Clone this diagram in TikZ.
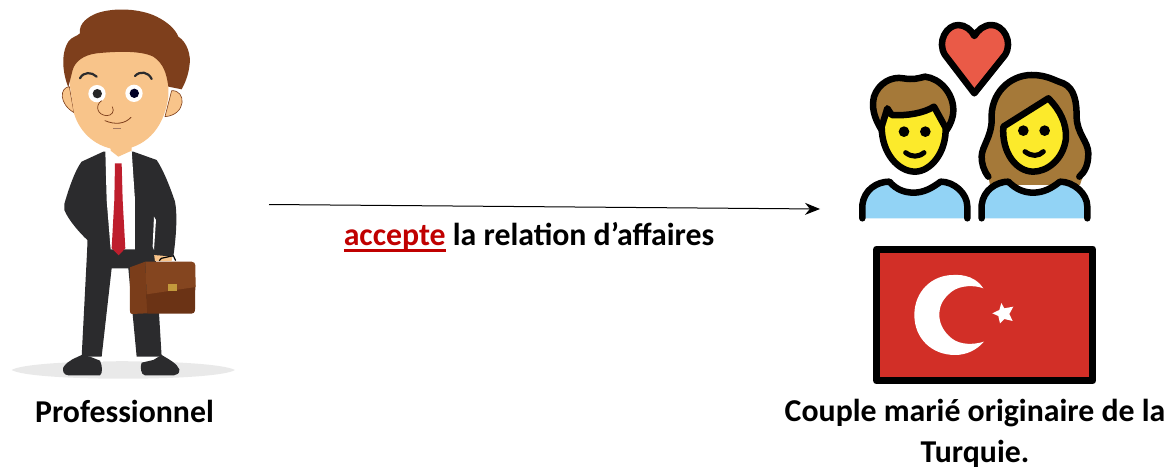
\documentclass[tikz,border=0pt]{standalone}
\usepackage{fontspec}
\usetikzlibrary{arrows.meta}
\setmainfont{Carlito}
\definecolor{skin}{HTML}{F8C48A}
\definecolor{hairm}{HTML}{7E3F1C}
\definecolor{suit}{HTML}{2B2B2D}
\definecolor{tiered}{HTML}{BE1E2D}
\definecolor{caseup}{HTML}{84451F}
\definecolor{caselow}{HTML}{6B3315}
\definecolor{caseside}{HTML}{7A3D1A}
\definecolor{clasp}{HTML}{C39A3C}
\definecolor{shadowc}{HTML}{E9E9E9}
\definecolor{heartc}{HTML}{EA5A47}
\definecolor{hairo}{HTML}{A57939}
\definecolor{facey}{HTML}{FCEA2B}
\definecolor{shirtb}{HTML}{92D3F5}
\definecolor{flagr}{HTML}{D22F27}
\definecolor{acc}{HTML}{C00000}
\newcommand{\thickul}[1]{\leavevmode\setbox0=\hbox{#1}\rlap{\rule[-6pt]{\wd0}{2.4pt}}\box0}
\tikzset{
 lbl/.style={font=\fontsize{31.8}{41}\selectfont\bfseries,align=center,inner sep=0pt,text=black},
 ol/.style={draw=black,line width=6.5pt,line cap=round,line join=round}
}
\begin{document}
\begin{tikzpicture}[x=1pt,y=-1pt]
\useasboundingbox (0,0) rectangle (1169,468);
% shadow and lower body
\begin{scope}[yshift=-190pt,x=0.3333pt,y=-0.3333pt]
\fill[shadowc] (35,540) .. controls (90,505) and (640,505) .. (705,540) .. controls (650,575) and (90,575) .. (35,540) -- cycle;
\fill[white] (275,500) rectangle (310,516);
\fill[white] (425,500) rectangle (460,516);
\fill[suit] (262,170) -- (245,500) -- (305,500) -- (335,235) -- (385,235) -- (410,500) -- (485,500) -- (465,170) -- cycle;
\fill[suit] (190,532) .. controls (205,510) and (225,505) .. (245,495) -- (270,500) -- (300,512) .. controls (308,530) and (308,550) .. (300,556) -- (205,556) .. controls (190,555) and (187,542) .. (190,532) -- cycle;
\fill[suit] (425,518) -- (460,510) -- (485,495) .. controls (510,510) and (530,520) .. (538,538) .. controls (540,550) and (530,556) .. (522,556) -- (435,556) .. controls (422,555) and (420,530) .. (425,518) -- cycle;
\fill[skin] (460,178) -- (520,185) -- (515,213) -- (465,213) -- cycle;
\draw[black,line width=1.2pt] (478,212) -- (484,205) -- (520,197) -- (527,212);
\fill[caseside] (390,232) -- (436,215) -- (442,370) -- (396,372) .. controls (391,372) and (390,368) .. (390,362) -- cycle;
\fill[caselow] (438,300) -- (586,285) -- (585,362) .. controls (584,368) and (580,371) .. (574,371) -- (442,371) -- cycle;
\fill[caseup] (436,215) -- (575,215) .. controls (582,215) and (586,220) .. (586,226) -- (587,291) -- (440,313) -- cycle;
\fill[clasp] (503,281) rectangle (531,304);
\end{scope}
% upper body
\begin{scope}[x=0.3333pt,y=-0.3333pt]
\fill[suit] (310,455) -- (245,485) .. controls (225,510) and (205,570) .. (193,612) -- (193,630) .. controls (205,660) and (240,700) .. (262,720) -- (262,770) -- (330,775) -- (400,775) -- (462,765) -- (520,770) .. controls (530,700) and (532,640) .. (525,605) .. controls (510,560) and (490,510) .. (470,480) -- (400,455) -- cycle;
\fill[white] (316,452) -- (395,452) -- (405,600) -- (405,748) -- (332,748) -- (320,600) -- cycle;
\fill[tiered] (345,490) -- (365,490) -- (368,600) -- (376,745) -- (356,766) -- (335,745) -- (343,600) -- cycle;
\fill[white] (462,650) -- (468,660) -- (462,750) -- (458,740) -- cycle;
% ears
\fill[skin,draw=hairm,line width=0.6pt] (208,260) .. controls (180,262) and (175,310) .. (222,338) -- cycle;
\fill[skin,draw=hairm,line width=0.6pt] (515,272) .. controls (560,270) and (560,345) .. (495,350) -- cycle;
% neck
\fill[skin] (330,430) -- (395,430) -- (395,452) -- (355,470) -- (332,452) -- cycle;
% face
\fill[skin] (212,180) -- (260,130) -- (460,130) -- (505,170) -- (505,290) .. controls (495,370) and (450,440) .. (360,450) .. controls (290,445) and (240,400) .. (222,340) -- (210,260) -- cycle;
% hair
\fill[hairm] (205,262) .. controls (190,225) and (180,165) .. (205,125) .. controls (215,110) and (230,110) .. (240,100) .. controls (235,70) and (265,50) .. (290,40) .. controls (340,22) and (420,25) .. (470,50) .. controls (500,65) and (525,85) .. (535,110) .. controls (560,125) and (575,165) .. (568,200) .. controls (565,225) and (555,250) .. (545,268) -- (505,260) .. controls (500,220) and (490,190) .. (460,170) .. controls (420,150) and (340,155) .. (290,160) .. controls (250,165) and (225,185) .. (218,210) -- cycle;
% features
\draw[suit,line width=2.2pt,line cap=round] (240,235) .. controls (250,215) and (275,215) .. (290,230);
\draw[suit,line width=2.2pt,line cap=round] (405,228) .. controls (420,212) and (445,215) .. (455,237);
\fill[white] (291,281) circle [radius=26];
\fill[white] (402,280) circle [radius=26];
\fill[black!85] (292,281) circle [radius=14];
\fill[black!85!blue] (403,280) circle [radius=14];
\fill[skin] (288,325) .. controls (295,300) and (310,300) .. (325,305) -- (345,340) -- (310,350) -- cycle;
\draw[hairm,line width=0.7pt] (305,302) .. controls (285,315) and (290,345) .. (320,347) .. controls (335,347) and (345,335) .. (337,320);
\draw[hairm,line width=0.8pt,line cap=round] (315,362) .. controls (345,375) and (375,372) .. (393,352);
\draw[hairm!70,line width=0.6pt] (340,385) -- (362,385);
\end{scope}
% labels
\node[lbl] (pro) at (124.5,411) {Professionnel};
\node[lbl] (couple) at (975,433) {Couple marié originaire de la\\Turquie.};
\node[lbl,anchor=base] (rel) at (529,245.5) {{\color{acc}\thickul{accepte}} la relation d’affaires};
% connector
\coordinate (from) at (269,204.5);
\coordinate (to) at (820,209);
\draw[black,line width=1pt,-{Stealth[length=15pt,width=12pt]}] (from) -- (to);
% couple
\begin{scope}[shift={(850,10)},x=0.3333pt,y=-0.3333pt]
\fill[heartc] (373,250) -- (285,135) .. controls (260,95) and (290,45) .. (325,45) .. controls (345,45) and (365,60) .. (373,78) .. controls (385,60) and (400,45) .. (425,45) .. controls (460,45) and (490,95) .. (465,135) -- cycle;
\draw[ol] (373,250) -- (285,135) .. controls (260,95) and (290,45) .. (325,45) .. controls (345,45) and (365,60) .. (373,78) .. controls (385,60) and (400,45) .. (425,45) .. controls (460,45) and (490,95) .. (465,135) -- cycle;
\fill[hairo] (415,500) -- (395,450) .. controls (395,410) and (425,380) .. (425,330) .. controls (420,250) and (480,195) .. (545,195) .. controls (590,195) and (610,210) .. (640,220) .. controls (675,235) and (680,280) .. (680,320) .. controls (680,370) and (715,395) .. (715,430) .. controls (715,470) and (700,490) .. (690,525) -- (420,525) -- cycle;
\draw[ol] (415,500) .. controls (400,480) and (395,460) .. (395,440) .. controls (395,410) and (425,380) .. (425,330) .. controls (420,250) and (480,195) .. (545,195) .. controls (590,195) and (610,210) .. (640,220) .. controls (675,235) and (680,280) .. (680,320) .. controls (680,370) and (715,395) .. (715,430) .. controls (715,465) and (705,485) .. (688,500);
\fill[facey] (460,350) -- (595,265) .. controls (630,300) and (650,340) .. (648,385) .. controls (640,450) and (590,485) .. (550,485) .. controls (500,485) and (455,430) .. (460,350) -- cycle;
\draw[ol] (460,350) -- (595,265) .. controls (630,300) and (650,340) .. (648,385) .. controls (640,450) and (590,485) .. (550,485) .. controls (500,485) and (455,430) .. (460,350) -- cycle;
\fill[black] (520,362) circle [radius=16] (584,362) circle [radius=16];
\draw[black,line width=5pt,line cap=round] (525,425) .. controls (545,440) and (565,440) .. (580,425);
\fill[shirtb] (395,625) -- (395,585) .. controls (400,540) and (440,515) .. (475,515) .. controls (500,540) and (525,548) .. (550,548) .. controls (580,548) and (605,535) .. (630,515) .. controls (670,515) and (712,550) .. (712,590) -- (712,625) -- cycle;
\draw[ol] (395,625) -- (395,585) .. controls (400,540) and (440,515) .. (475,515) .. controls (500,540) and (525,548) .. (550,548) .. controls (580,548) and (605,535) .. (630,515) .. controls (670,515) and (712,550) .. (712,590) -- (712,625);
\fill[hairo] (95,360) .. controls (70,320) and (65,290) .. (72,260) .. controls (85,220) and (125,198) .. (160,205) .. controls (190,210) and (205,205) .. (225,200) .. controls (270,205) and (310,250) .. (310,300) .. controls (310,325) and (300,345) .. (290,360) -- cycle;
\fill[facey] (112,295) -- (130,318) .. controls (170,318) and (220,310) .. (252,290) -- (285,355) .. controls (290,420) and (240,485) .. (195,485) .. controls (145,485) and (95,430) .. (95,360) -- cycle;
\draw[ol] (95,360) .. controls (70,320) and (65,290) .. (72,260) .. controls (85,220) and (125,198) .. (160,205) .. controls (190,210) and (205,205) .. (225,200) .. controls (270,205) and (310,250) .. (310,300) .. controls (310,325) and (300,345) .. (290,360);
\draw[ol] (95,350) -- (112,295) -- (125,315) .. controls (170,318) and (220,310) .. (252,290) -- (285,350);
\draw[ol] (95,350) .. controls (95,430) and (145,485) .. (195,485) .. controls (240,485) and (290,430) .. (287,350);
\fill[black] (162,365) circle [radius=16] (226,365) circle [radius=16];
\draw[black,line width=5pt,line cap=round] (167,428) .. controls (185,442) and (205,442) .. (222,428);
\fill[shirtb] (37,625) -- (37,585) .. controls (42,540) and (80,515) .. (118,515) .. controls (140,540) and (165,548) .. (192,548) .. controls (220,548) and (245,535) .. (272,515) .. controls (312,515) and (352,550) .. (352,590) -- (352,625) -- cycle;
\draw[ol] (37,625) -- (37,585) .. controls (42,540) and (80,515) .. (118,515) .. controls (140,540) and (165,548) .. (192,548) .. controls (220,548) and (245,535) .. (272,515) .. controls (312,515) and (352,550) .. (352,590) -- (352,625);
\end{scope}
% flag
\begin{scope}[shift={(860,235)},x=0.3333pt,y=-0.3333pt]
\fill[flagr] (50,42) rectangle (698,438);
\draw[black,line width=7pt,line join=round] (50,42) rectangle (698,438);
\fill[white] (370,160) .. controls (340,115) and (290,120) .. (280,120) .. controls (215,120) and (163,170) .. (163,240) .. controls (163,310) and (215,360) .. (285,360) .. controls (320,360) and (350,345) .. (372,320) .. controls (340,330) and (300,330) .. (275,310) .. controls (250,290) and (238,265) .. (238,240) .. controls (238,210) and (250,190) .. (275,170) .. controls (300,150) and (345,150) .. (370,160) -- cycle;
\fill[white] (424,204) -- (433,220) -- (460,215) -- (448,237) -- (458,258) -- (433,252) -- (420,265) -- (415,243) -- (397,235) -- (418,225) -- cycle;
\end{scope}
\end{tikzpicture}
\end{document}
